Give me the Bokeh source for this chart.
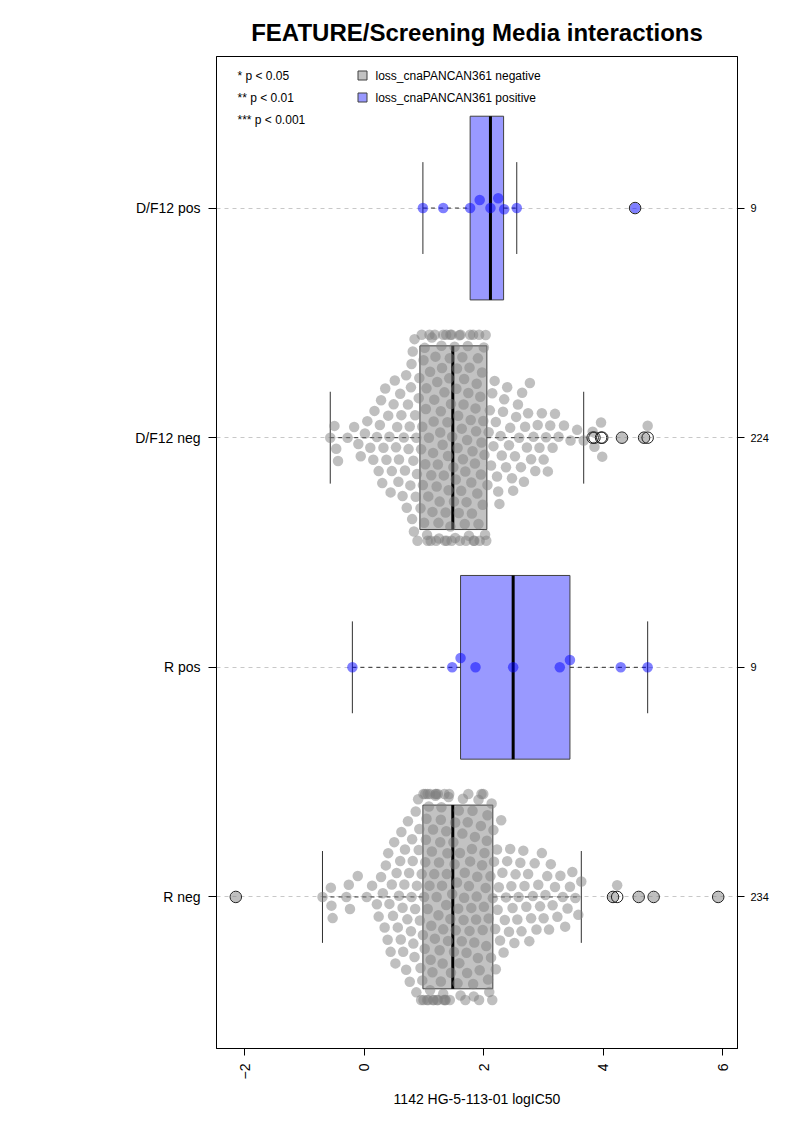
import numpy as np
from bokeh.plotting import figure
from bokeh.models import Range1d, LinearAxis, FixedTicker, Label
from bokeh.embed import file_html
from bokeh.resources import INLINE

# ---------------- data ----------------
categories = ["R neg", "R pos", "D/F12 neg", "D/F12 pos"]
counts = ["234", "9", "224", "9"]
is_positive = [False, True, False, True]

# box statistics
q1 = [0.98, 1.61, 0.93, 1.77]
med = [1.48, 2.49, 1.48, 2.11]
q3 = [2.15, 3.44, 2.05, 2.33]
whisk_lo = [-0.70, -0.20, -0.57, 0.98]
whisk_hi = [3.63, 4.74, 3.67, 2.55]

# outliers
r_neg_out = [-2.15, 4.16, 4.23, 4.59, 4.84, 5.92]
r_pos_out = []
df_neg_out = [3.82, 3.85, 3.96, 3.98, 4.31, 4.68, 4.74]
df_pos_out = [4.53]

# individual values (swarm)
r_neg = [-2.15,
         -0.70, -0.56, -0.55, -0.53, -0.30, -0.26, -0.24, -0.11, 0.04, 0.13,
         0.21, 0.24, 0.28, 0.31, 0.34, 0.36, 0.39, 0.40,
         0.42, 0.44, 0.46, 0.48, 0.50, 0.52, 0.54, 0.56, 0.58, 0.60,
         0.61, 0.62, 0.64, 0.65, 0.67, 0.68, 0.70, 0.72, 0.73, 0.75, 0.76, 0.78, 0.79,
         0.80, 0.81, 0.82, 0.84, 0.85, 0.86, 0.87, 0.88, 0.90, 0.91, 0.92, 0.93, 0.94, 0.95, 0.96, 0.97,
         0.98, 0.99, 0.99, 1.00, 1.01, 1.02, 1.02, 1.03, 1.04, 1.05,
         1.06, 1.06, 1.07, 1.08, 1.09, 1.10, 1.10, 1.11, 1.12, 1.13,
         1.14, 1.15, 1.15, 1.16, 1.17, 1.18, 1.19, 1.19, 1.20, 1.21,
         1.22, 1.23, 1.23, 1.24, 1.25, 1.26, 1.27, 1.28, 1.28, 1.29,
         1.30, 1.31, 1.32, 1.32, 1.33, 1.34, 1.35, 1.36, 1.37, 1.37,
         1.38, 1.39, 1.40, 1.41, 1.42, 1.43, 1.44, 1.45, 1.47,
         1.49, 1.50, 1.51, 1.52, 1.53, 1.55, 1.56, 1.57, 1.58, 1.59,
         1.60, 1.61, 1.63, 1.64, 1.65, 1.66, 1.67, 1.68, 1.69, 1.71,
         1.72, 1.73, 1.74, 1.75, 1.76, 1.77, 1.79, 1.80, 1.81, 1.82,
         1.83, 1.84, 1.85, 1.87, 1.88, 1.89, 1.90, 1.91, 1.92, 1.93,
         1.95, 1.96, 1.97, 1.98, 1.99, 2.00, 2.01, 2.03, 2.04, 2.05,
         2.06, 2.07, 2.08, 2.09, 2.11, 2.12, 2.13, 2.14, 2.15,
         2.16, 2.17, 2.19, 2.20, 2.22, 2.23, 2.25, 2.27, 2.29, 2.31, 2.33, 2.35, 2.37, 2.39, 2.42, 2.44,
         2.46, 2.48, 2.51, 2.53, 2.56, 2.58, 2.61, 2.63, 2.66, 2.68, 2.71, 2.74, 2.76, 2.79,
         2.82, 2.85, 2.88, 2.91, 2.94, 2.97, 3.00, 3.03, 3.06, 3.09, 3.12, 3.15, 3.19,
         3.23, 3.28, 3.32, 3.36, 3.40, 3.44, 3.48, 3.53, 3.58, 3.63,
         4.16, 4.23, 4.59, 4.84, 5.92]

r_pos = [-0.20, 1.47, 1.61, 1.86, 2.49, 3.27, 3.44, 4.29, 4.74]

df_neg = [-0.57, -0.50, -0.47, -0.44, -0.28, -0.17, -0.10, -0.06, 0.01, 0.05, 0.10, 0.15, 0.17, 0.21,
          0.24, 0.26, 0.28, 0.30, 0.32, 0.35, 0.37, 0.40, 0.42, 0.44, 0.46, 0.49,
          0.51, 0.53, 0.55, 0.57, 0.58, 0.60, 0.62, 0.64, 0.66, 0.68, 0.70, 0.71, 0.73, 0.74,
          0.76, 0.77, 0.78, 0.79, 0.80, 0.81, 0.82, 0.83, 0.84, 0.85, 0.86, 0.87, 0.88, 0.89, 0.91, 0.92,
          0.94, 0.95, 0.96, 0.97, 0.98, 0.99, 1.00, 1.01, 1.02, 1.03,
          1.04, 1.05, 1.06, 1.07, 1.08, 1.09, 1.10, 1.11, 1.12, 1.13,
          1.14, 1.15, 1.16, 1.17, 1.18, 1.19, 1.20, 1.21, 1.22, 1.23,
          1.24, 1.25, 1.26, 1.27, 1.28, 1.29, 1.30, 1.31, 1.32, 1.33,
          1.34, 1.35, 1.36, 1.37, 1.38, 1.39, 1.40, 1.41, 1.42, 1.43,
          1.44, 1.44, 1.45, 1.46, 1.46, 1.47,
          1.49, 1.50, 1.51, 1.52, 1.53, 1.54, 1.55, 1.56, 1.57, 1.58,
          1.59, 1.60, 1.61, 1.62, 1.63, 1.64, 1.65, 1.66, 1.67, 1.68,
          1.69, 1.70, 1.71, 1.72, 1.73, 1.74, 1.75, 1.76, 1.77, 1.78,
          1.79, 1.80, 1.81, 1.82, 1.83, 1.84, 1.85, 1.86, 1.87, 1.88,
          1.89, 1.90, 1.91, 1.92, 1.93, 1.94, 1.95, 1.96, 1.97, 1.98,
          1.99, 2.00, 2.01, 2.02, 2.03, 2.04,
          2.06, 2.08, 2.10, 2.12, 2.14, 2.16, 2.18, 2.20, 2.22, 2.24, 2.26, 2.28, 2.30, 2.32, 2.34, 2.37, 2.39,
          2.42, 2.44, 2.47, 2.49, 2.52, 2.54, 2.57, 2.59, 2.62, 2.64, 2.67, 2.69, 2.72, 2.74, 2.77, 2.79,
          2.83, 2.86, 2.90, 2.93, 2.97, 3.00, 3.04, 3.07, 3.11, 3.15, 3.19,
          3.25, 3.34, 3.45, 3.56, 3.67,
          3.82, 3.85, 3.96, 3.98, 4.31, 4.68, 4.74]

df_pos = [0.98, 1.32, 1.77, 1.93, 2.11, 2.24, 2.34, 2.55, 4.53]

values = [r_neg, r_pos, df_neg, df_pos]
outs = [r_neg_out, r_pos_out, df_neg_out, df_pos_out]
legend_labels = ["loss_cnaPANCAN361 negative", "loss_cnaPANCAN361 positive"]
pval_labels = ["* p < 0.05", "** p < 0.01", "*** p < 0.001"]
title = "FEATURE/Screening Media interactions"
xlabel = "1142 HG-5-113-01 logIC50"

# ---------------- styling / geometry ----------------
FONT = "Liberation Sans"
W, H = 785, 1114
FR_L, FR_T, FR_W, FR_H = 216, 56, 521, 992
XMIN, XMAX = -2.473, 6.243
YMIN, YMAX = 0.34, 4.66
PX_X = FR_W / (XMAX - XMIN)
PX_Y = FR_H / (YMAX - YMIN)
BOX_HALF = 0.4
STAPLE_HALF = 0.2
DOT = 10.5          # drawn point diameter, px
SPACE = 12.5        # swarm spacing, px
CORRAL = 103.0      # swarm half-width, px

GRAY_FILL = "#C2C2C2"
BLUE_FILL = "#9999FF"
GRAY_PT = "#7F7F7F"
BLUE_PT = "#0000FF"
EDGE = "#404040"


def swarm(vals):
    xs = np.asarray(vals, float) * PX_X
    order = np.argsort(xs, kind="stable")
    ys = np.zeros(len(xs))
    placed = []
    d2 = SPACE ** 2
    for i in order:
        xi = xs[i]
        nb = [j for j in placed if abs(xs[j] - xi) < SPACE]
        cands = [0.0]
        for j in nb:
            h = np.sqrt(max(d2 - (xs[j] - xi) ** 2, 0.0))
            cands += [ys[j] + h, ys[j] - h]
        best = 0.0
        for c in sorted(cands, key=lambda c: (abs(c), -c)):
            if all((xs[j] - xi) ** 2 + (ys[j] - c) ** 2 >= d2 - 1e-6 for j in nb):
                best = c
                break
        ys[i] = best
        placed.append(i)
    ys = np.clip(ys, -CORRAL, CORRAL)
    return ys / PX_Y


def px2x(px):
    return XMIN + (px - FR_L) / PX_X


def py2y(py):
    return YMAX - (py - FR_T) / PX_Y


p = figure(width=W, height=H, output_backend="svg", toolbar_location=None,
           x_range=Range1d(XMIN, XMAX), y_range=Range1d(YMIN, YMAX),
           min_border_left=FR_L, min_border_right=W - FR_L - FR_W,
           min_border_top=FR_T, min_border_bottom=H - FR_T - FR_H)
p.background_fill_color = "white"
p.border_fill_color = "white"
p.outline_line_color = "black"
p.outline_line_width = 1

# title
p.title.text = title
p.title.align = "center"
p.title.text_font = FONT
p.title.text_font_size = "24px"
p.title.text_font_style = "bold"
p.title.text_color = "black"
p.title.standoff = 22

# grid
p.xgrid.visible = False
p.ygrid.ticker = FixedTicker(ticks=[1, 2, 3, 4])
p.ygrid.grid_line_color = "#C8C8C8"
p.ygrid.grid_line_dash = "4 4"

# x axis
xa = p.xaxis[0]
xa.ticker = FixedTicker(ticks=[-2, 0, 2, 4, 6])
xa.major_label_orientation = np.pi / 2
xa.major_tick_out = 7
xa.major_tick_in = 0
xa.minor_tick_line_color = None
xa.axis_line_color = "black"
xa.major_tick_line_color = "black"
xa.major_label_text_font = FONT
xa.major_label_text_font_size = "14px"
xa.major_label_text_color = "black"
xa.major_label_standoff = 8
xa.axis_label = xlabel
xa.axis_label_text_font = FONT
xa.axis_label_text_font_size = "14px"
xa.axis_label_text_font_style = "normal"
xa.axis_label_text_color = "black"
xa.axis_label_standoff = 9

# left axis
ya = p.yaxis[0]
ya.ticker = FixedTicker(ticks=[1, 2, 3, 4])
ya.major_label_overrides = {i + 1: c for i, c in enumerate(categories)}
ya.major_tick_out = 8
ya.major_tick_in = 0
ya.minor_tick_line_color = None
ya.axis_line_color = "black"
ya.major_tick_line_color = "black"
ya.major_label_text_font = FONT
ya.major_label_text_font_size = "14px"
ya.major_label_text_color = "black"
ya.major_label_standoff = 8

# right axis with counts
ra = LinearAxis(ticker=FixedTicker(ticks=[1, 2, 3, 4]),
                major_label_overrides={i + 1: c for i, c in enumerate(counts)})
ra.major_tick_out = 7
ra.major_tick_in = 0
ra.minor_tick_line_color = None
ra.axis_line_color = "black"
ra.major_tick_line_color = "black"
ra.major_label_text_font = FONT
ra.major_label_text_font_size = "11px"
ra.major_label_text_color = "black"
ra.major_label_standoff = 6
p.add_layout(ra, "right")

ypos = [1, 2, 3, 4]
fills = [BLUE_FILL if pos else GRAY_FILL for pos in is_positive]
ptcols = [BLUE_PT if pos else GRAY_PT for pos in is_positive]

# boxes
p.quad(left=q1, right=q3,
       bottom=[y - BOX_HALF for y in ypos], top=[y + BOX_HALF for y in ypos],
       fill_color=fills, line_color=EDGE, line_width=1)
# whiskers
p.segment(x0=whisk_lo, y0=ypos, x1=q1, y1=ypos, line_color="#303030", line_dash="4 4", line_width=1)
p.segment(x0=q3, y0=ypos, x1=whisk_hi, y1=ypos, line_color="#303030", line_dash="4 4", line_width=1)
# staples
p.segment(x0=whisk_lo, y0=[y - STAPLE_HALF for y in ypos], x1=whisk_lo, y1=[y + STAPLE_HALF for y in ypos],
          line_color="#303030", line_width=1)
p.segment(x0=whisk_hi, y0=[y - STAPLE_HALF for y in ypos], x1=whisk_hi, y1=[y + STAPLE_HALF for y in ypos],
          line_color="#303030", line_width=1)
# medians
p.segment(x0=med, y0=[y - BOX_HALF for y in ypos], x1=med, y1=[y + BOX_HALF for y in ypos],
          line_color="black", line_width=3)

# swarm points
for k, vals in enumerate(values):
    off = swarm(vals)
    p.scatter(x=list(vals), y=list(ypos[k] + off), size=DOT, marker="circle",
              fill_color=ptcols[k], fill_alpha=0.5, line_color=None)

# outliers
for k, o in enumerate(outs):
    if o:
        p.scatter(x=o, y=[ypos[k]] * len(o), size=DOT + 1, marker="circle",
                  fill_color=None, line_color="#202020", line_width=1)

# legend (drawn in data space)
for i, t in enumerate(pval_labels):
    p.add_layout(Label(x=px2x(237), y=py2y(75 + 22 * i), text=t, text_font=FONT,
                       text_font_size="12px", text_baseline="middle", text_align="left",
                       text_color="black"))
for i, t in enumerate(legend_labels):
    p.scatter(x=[px2x(362)], y=[py2y(75 + 22 * i)], marker="square", size=9,
              fill_color=[GRAY_FILL, BLUE_FILL][i], line_color=EDGE, line_width=1)
    p.add_layout(Label(x=px2x(375), y=py2y(75 + 22 * i), text=t, text_font=FONT,
                       text_font_size="12px", text_baseline="middle", text_align="left",
                       text_color="black"))

open("out.html", "w").write(file_html(p, INLINE))
